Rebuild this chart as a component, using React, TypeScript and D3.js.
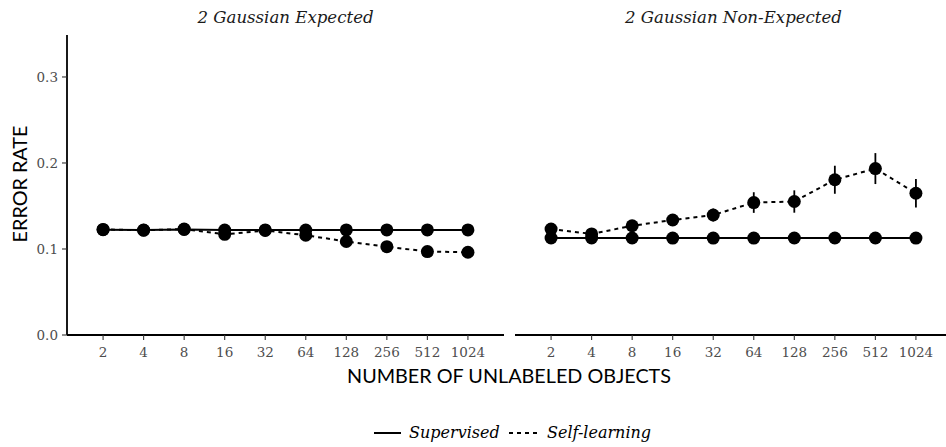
import React from "react";
import * as d3 from "d3";

const categories = ["2", "4", "8", "16", "32", "64", "128", "256", "512", "1024"];
const panels = ["2 Gaussian Expected", "2 Gaussian Non-Expected"];
const yTicks = [0, 0.1, 0.2, 0.3];

const supervisedExpected = [0.1225, 0.122, 0.1228, 0.122, 0.1222, 0.122, 0.1222, 0.1222, 0.1222, 0.1222];
const selfExpected = [0.1228, 0.1218, 0.1232, 0.117, 0.1215, 0.116, 0.1087, 0.1027, 0.097, 0.0962];
const selfExpectedErr = [0.002, 0.002, 0.002, 0.003, 0.002, 0.003, 0.003, 0.003, 0.003, 0.003];

const supervisedNonExp = [0.1128, 0.1128, 0.1128, 0.1127, 0.1127, 0.1127, 0.1128, 0.1128, 0.1128, 0.1127];
const selfNonExp = [0.1232, 0.1175, 0.127, 0.1337, 0.1395, 0.154, 0.1552, 0.1805, 0.1935, 0.1648];
const selfNonExpErr = [0.003, 0.003, 0.006, 0.006, 0.0075, 0.012, 0.013, 0.0163, 0.018, 0.0165];

const legendLabels = ["Supervised", "Self-learning"];

const W = 946;
const H = 447;
const panelLefts = [67, 515];
const panelWidth = 437;
const yTop = 35;
const yBottom = 335;

const serif = "'DejaVu Serif', 'Liberation Serif', serif";
const sans = "Lato, 'Open Sans', sans-serif";

export default function App() {
  const y = d3.scaleLinear().domain([0, 0.3488]).range([yBottom, yTop]);
  const data = [
    { sup: supervisedExpected, self: selfExpected, err: selfExpectedErr },
    { sup: supervisedNonExp, self: selfNonExp, err: selfNonExpErr },
  ];

  return (
    <svg width={W} height={H} style={{ position: "absolute", left: 0, top: 0, background: "#fff" }}>
      {panels.map((title, pi) => {
        const x = d3
          .scalePoint<string>()
          .domain(categories)
          .range([panelLefts[pi], panelLefts[pi] + panelWidth])
          .padding(0.89);
        const d = data[pi];
        const supLine = d3
          .line<number>()
          .x((_, i) => x(categories[i])!)
          .y((v) => y(v))(d.sup);
        const selfLine = d3
          .line<number>()
          .x((_, i) => x(categories[i])!)
          .y((v) => y(v))(d.self);
        return (
          <g key={title}>
            <text
              x={panelLefts[pi] + panelWidth / 2}
              y={23}
              textAnchor="middle"
              fontFamily={serif}
              fontStyle="italic"
              fontSize={16.6}
              fill="#1a1a1a"
            >
              {title}
            </text>
            {/* x axis */}
            <line
              x1={panelLefts[pi]}
              x2={panelLefts[pi] + panelWidth}
              y1={yBottom}
              y2={yBottom}
              stroke="#000"
              strokeWidth={1.8}
            />
            {categories.map((c) => (
              <g key={c}>
                <line x1={x(c)} x2={x(c)} y1={yBottom} y2={yBottom + 5} stroke="#333" strokeWidth={1.1} />
                <text
                  x={x(c)}
                  y={yBottom + 22}
                  textAnchor="middle"
                  fontFamily={serif}
                  fontSize={13.5}
                  fill="#4d4d4d"
                >
                  {c}
                </text>
              </g>
            ))}
            {pi === 0 && (
              <g>
                <line x1={panelLefts[0]} x2={panelLefts[0]} y1={yTop} y2={yBottom} stroke="#000" strokeWidth={1.8} />
                {yTicks.map((t) => (
                  <g key={t}>
                    <line x1={panelLefts[0] - 5} x2={panelLefts[0]} y1={y(t)} y2={y(t)} stroke="#333" strokeWidth={1.1} />
                    <text
                      x={panelLefts[0] - 9}
                      y={y(t)}
                      dy="0.35em"
                      textAnchor="end"
                      fontFamily={serif}
                      fontSize={13.5}
                      fill="#4d4d4d"
                    >
                      {t.toFixed(1)}
                    </text>
                  </g>
                ))}
              </g>
            )}
            {/* error bars */}
            {d.self.map((v, i) => (
              <line
                key={"e" + i}
                x1={x(categories[i])}
                x2={x(categories[i])}
                y1={y(v - d.err[i])}
                y2={y(v + d.err[i])}
                stroke="#000"
                strokeWidth={1.8}
              />
            ))}
            <path d={supLine!} fill="none" stroke="#000" strokeWidth={2} />
            <path d={selfLine!} fill="none" stroke="#000" strokeWidth={2} strokeDasharray="4,4" />
            {d.sup.map((v, i) => (
              <circle key={"s" + i} cx={x(categories[i])} cy={y(v)} r={6.5} fill="#000" />
            ))}
            {d.self.map((v, i) => (
              <circle key={"l" + i} cx={x(categories[i])} cy={y(v)} r={6.5} fill="#000" />
            ))}
          </g>
        );
      })}
      <text x={509} y={383} textAnchor="middle" fontFamily={sans} fontSize={19.8} fill="#000">
        NUMBER OF UNLABELED OBJECTS
      </text>
      <text
        transform={`translate(27,184) rotate(-90)`}
        textAnchor="middle"
        fontFamily={sans}
        fontSize={19.8}
        fill="#000"
      >
        ERROR RATE
      </text>
      {/* legend */}
      <g>
        <line x1={374} x2={401} y1={433} y2={433} stroke="#000" strokeWidth={2} />
        <text x={409} y={438} fontFamily={serif} fontStyle="italic" fontSize={16} fill="#000">
          {legendLabels[0]}
        </text>
        <line x1={509} x2={540} y1={433} y2={433} stroke="#000" strokeWidth={2} strokeDasharray="4,4" />
        <text x={547} y={438} fontFamily={serif} fontStyle="italic" fontSize={16} fill="#000">
          {legendLabels[1]}
        </text>
      </g>
    </svg>
  );
}
